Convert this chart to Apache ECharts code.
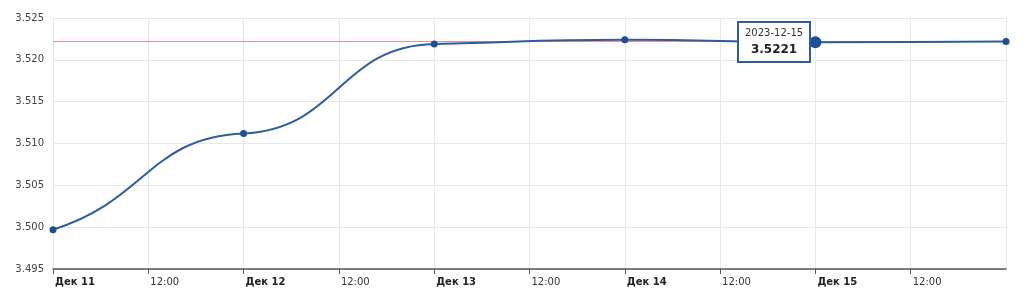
<!DOCTYPE html>
<html><head><meta charset="utf-8">
<script src="https://cdn.jsdelivr.net/npm/echarts@6/dist/echarts.min.js"></script>
<style>html,body{margin:0;padding:0;background:#fff}#c{width:1024px;height:297px}</style>
</head><body><div id="c"></div>
<script>
const dates = ['2023-12-11','2023-12-12','2023-12-13','2023-12-14','2023-12-15','2023-12-16'];
const values = [3.4997, 3.5112, 3.5219, 3.5224, 3.5221, 3.5222];
const dayLabels = ['Дек 11','Дек 12','Дек 13','Дек 14','Дек 15','Дек 16'];
const yTicks = [3.495, 3.500, 3.505, 3.510, 3.515, 3.520, 3.525];
const refLevel = 3.5222;
const highlightIndex = 4;

const t0 = Date.parse(dates[0] + 'T00:00:00Z');
const hours = dates.map(d => (Date.parse(d + 'T00:00:00Z') - t0) / 3600000);
const n = hours.length;

// curve tangents (style of the spline): end points vs interior points
const K_END = 0.62, K_MID = 0.09;
const tangents = hours.map((h, i) => {
  if (i === 0) return K_END * (values[1] - values[0]) / (hours[1] - hours[0]);
  if (i === n - 1) return K_END * (values[n-1] - values[n-2]) / (hours[n-1] - hours[n-2]);
  return K_MID * (values[i+1] - values[i-1]) / (hours[i+1] - hours[i-1]);
});

const pointData = hours.map((h, i) => {
  const item = { value: [h, values[i]] };
  if (i === highlightIndex) item.symbolSize = 12;
  return item;
});

const LINE_COLOR = '#2e5c9e';
const REF_COLOR = '#ec8e99';
const chart = echarts.init(document.getElementById('c'), null, {renderer: 'canvas'});
chart.setOption({
  animation: false,
  grid: { left: 53, right: 18, top: 18, bottom: 28 },
  xAxis: {
    type: 'value', min: 0, max: hours[n - 1], interval: 12,
    axisLine: { lineStyle: { color: '#555', width: 1.5 } },
    axisTick: { show: true, length: 5, lineStyle: { color: '#555' } },
    splitLine: { show: true, lineStyle: { color: '#e8e8e8' } },
    axisLabel: {
      showMaxLabel: false, align: 'left', margin: 8, padding: [0, 0, 0, 2],
      fontFamily: 'DejaVu Sans', fontSize: 10, color: '#333',
      formatter: v => (v % 24 === 0) ? '{b|' + dayLabels[v / 24] + '}' : '12:00',
      rich: { b: { fontWeight: 'bold', fontFamily: 'DejaVu Sans', fontSize: 10, color: '#222' } }
    }
  },
  yAxis: {
    type: 'value', min: yTicks[0], max: yTicks[yTicks.length - 1], interval: 0.005,
    axisLine: { show: false }, axisTick: { show: false },
    splitLine: { lineStyle: { color: '#e8e8e8' } },
    axisLabel: { fontFamily: 'DejaVu Sans', fontSize: 10, color: '#444', margin: 9,
      formatter: v => v.toFixed(3) }
  },
  tooltip: {
    trigger: 'item', alwaysShowContent: true, triggerOn: 'none',
    backgroundColor: '#fff', borderColor: LINE_COLOR, borderWidth: 2, padding: [3, 6],
    extraCssText: 'border-radius:0;box-shadow:none;',
    position: (p) => [p[0] - 78, p[1] - 21],
    formatter: p => '<div style="font-family:DejaVu Sans;font-size:10px;color:#333;text-align:center;line-height:14px">' +
      dates[p.dataIndex] + '</div><div style="font-family:DejaVu Sans;font-size:12px;font-weight:bold;color:#222;text-align:center;line-height:18px">' +
      values[p.dataIndex].toFixed(4) + '</div>'
  },
  series: [
    {
      type: 'custom', silent: true, z: 2,
      data: hours.map((h, i) => [h, values[i]]),
      renderItem: (params, api) => {
        if (params.dataIndex !== 0) return null;
        const children = [];
        const r0 = api.coord([hours[0], refLevel]);
        const r1 = api.coord([hours[n - 1], refLevel]);
        const ry = Math.round(r0[1] - 0.5) + 0.5;
        children.push({
          type: 'line', z2: 0,
          shape: { x1: r0[0], y1: ry, x2: r1[0], y2: ry },
          style: { stroke: REF_COLOR, lineWidth: 1, opacity: 1 }
        });
        for (let i = 0; i < n - 1; i++) {
          const dx = hours[i+1] - hours[i];
          const p0 = api.coord([hours[i], values[i]]);
          const p1 = api.coord([hours[i+1], values[i+1]]);
          const c1 = api.coord([hours[i] + dx / 2, values[i] + tangents[i] * dx / 2]);
          const c2 = api.coord([hours[i+1] - dx / 2, values[i+1] - tangents[i+1] * dx / 2]);
          children.push({
            type: 'bezierCurve', z2: 1,
            shape: { x1: p0[0], y1: p0[1], x2: p1[0], y2: p1[1], cpx1: c1[0], cpy1: c1[1], cpx2: c2[0], cpy2: c2[1] },
            style: { stroke: LINE_COLOR, lineWidth: 2, fill: null }
          });
        }
        return { type: 'group', children };
      }
    },
    {
      type: 'scatter', data: pointData, symbol: 'circle', symbolSize: 7,
      itemStyle: { color: '#1f4e96', opacity: 1 }, emphasis: { disabled: true }, z: 3
    }
  ]
});
chart.dispatchAction({ type: 'showTip', seriesIndex: 1, dataIndex: highlightIndex });
</script></body></html>
